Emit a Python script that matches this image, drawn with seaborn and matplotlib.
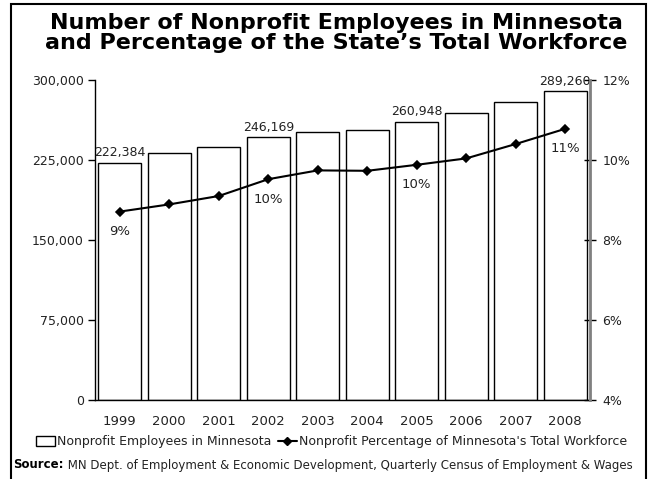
import matplotlib
matplotlib.use("Agg")
import matplotlib.pyplot as plt
import seaborn as sns
import pandas as pd
from matplotlib.patches import Patch, Rectangle
from matplotlib.lines import Line2D
from matplotlib.ticker import FuncFormatter, FixedLocator

years = ["1999", "2000", "2001", "2002", "2003", "2004", "2005", "2006", "2007", "2008"]
employees = [222384, 231800, 237500, 246169, 251000, 252800, 260948, 268900, 279200, 289260]
pct = [8.71, 8.89, 9.10, 9.52, 9.74, 9.73, 9.88, 10.04, 10.40, 10.78]
labelled_years = ["1999", "2002", "2005", "2008"]
pct_labels = ["9%", "10%", "10%", "11%"]
left_ticks = [0, 75000, 150000, 225000, 300000]
right_ticks = [4, 6, 8, 10, 12]

title = "Number of Nonprofit Employees in Minnesota\nand Percentage of the State\u2019s Total Workforce"
bar_name = "Nonprofit Employees in Minnesota"
line_name = "Nonprofit Percentage of Minnesota's Total Workforce"
source_bold = "Source:"
source_rest = " MN Dept. of Employment & Economic Development, Quarterly Census of Employment & Wages"

df = pd.DataFrame({"year": years, "employees": employees, "pct": pct})

sns.set_theme(style="white")
plt.rcParams["font.family"] = ["DejaVu Sans"]

W, H = 657, 479
fig = plt.figure(figsize=(W / 100, H / 100), dpi=100)
ax = fig.add_axes([95 / W, 1 - 400 / H, (590 - 95) / W, 320 / H])

sns.barplot(data=df, x="year", y="employees", color="white", saturation=1,
            edgecolor="black", linewidth=1, width=0.87, ax=ax)
ax.set_xlim(-0.5, 9.5)
ax.set_ylim(0, 300000)
ax.yaxis.set_major_locator(FixedLocator(left_ticks))
ax.yaxis.set_major_formatter(FuncFormatter(lambda v, p: f"{int(v):,}"))
ax.set_xlabel("")
ax.set_ylabel("")
ax.tick_params(axis="y", left=True, direction="out", length=5, width=1, color="black",
               labelsize=9, pad=3, labelcolor="#222222")
ax.tick_params(axis="x", bottom=False, labelsize=9.5, pad=5, labelcolor="#222222")
for s in ["top", "right"]:
    ax.spines[s].set_visible(False)
for s in ["left", "bottom"]:
    ax.spines[s].set_color("black")
    ax.spines[s].set_linewidth(1)

for i, (y, v) in enumerate(zip(years, employees)):
    if y in labelled_years:
        ax.annotate(f"{v:,}", (i, v), xytext=(0, 2.5), textcoords="offset points",
                    ha="center", va="bottom", fontsize=9, color="#222222",
                    annotation_clip=False)

ax2 = ax.twinx()
sns.pointplot(data=df, x="year", y="pct", color="black", marker="D", markersize=4.5,
              linewidth=1.5, ax=ax2)
ax2.set_xlim(-0.5, 9.5)
ax2.set_ylim(4, 12)
ax2.yaxis.set_major_locator(FixedLocator(right_ticks))
ax2.yaxis.set_major_formatter(FuncFormatter(lambda v, p: f"{v:.0f}%"))
ax2.set_ylabel("")
ax2.set_xlabel("")
ax2.tick_params(axis="y", right=True, direction="inout", length=8, width=1, color="black",
                labelsize=9, pad=5, labelcolor="#222222")
for s in ["top", "left", "bottom"]:
    ax2.spines[s].set_visible(False)
ax2.spines["right"].set_color("#808080")
ax2.spines["right"].set_linewidth(2)

for i, (y, v) in enumerate(zip(years, pct)):
    if y in labelled_years:
        ax2.annotate(pct_labels[labelled_years.index(y)], (i, v), xytext=(0, -14.5),
                     textcoords="offset points", ha="center", va="center",
                     fontsize=9.5, color="#222222")

fig.text(336 / W, 1 - 33 / H, title, ha="center", va="center", fontsize=16,
         fontweight="bold", linespacing=1.05, color="black")

handles = [Patch(facecolor="white", edgecolor="black", linewidth=1),
           Line2D([], [], color="black", marker="D", markersize=4, linewidth=1.5)]
fig.legend(handles, [bar_name, line_name], loc="center", bbox_to_anchor=(0.505, 1 - 442 / H),
           ncol=2, frameon=False, fontsize=9, handlelength=1.5, handleheight=0.8,
           columnspacing=0.5, handletextpad=0.2, labelcolor="#222222")

t1 = fig.text(13 / W, 1 - 465 / H, source_bold, ha="left", va="center", fontsize=8.5,
              fontweight="bold", color="black")
fig.canvas.draw()
bb = t1.get_window_extent()
fig.text(bb.x1 / W, 1 - 465 / H, source_rest, ha="left", va="center", fontsize=8.5,
         color="#222222")

fig.patches.append(Rectangle((11 / W, -0.05), (646 - 11) / W, 1 - 4 / H + 0.05,
                             transform=fig.transFigure, fill=False, lw=1.5,
                             edgecolor="black"))

fig.savefig("out.png", dpi=100)
